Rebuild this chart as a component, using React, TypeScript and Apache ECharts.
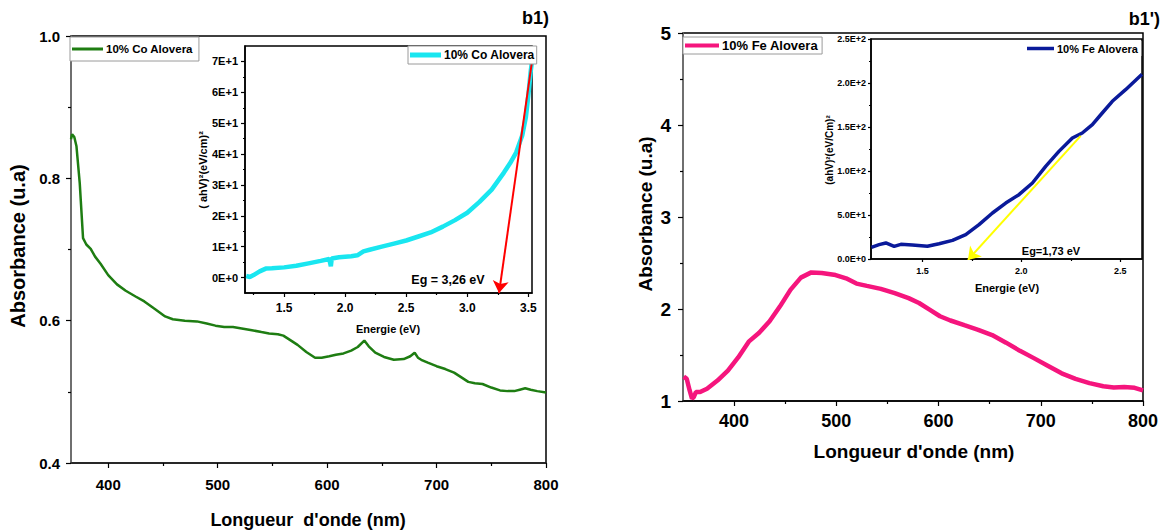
import React, { useEffect, useRef } from "react";
import * as echarts from "echarts";

// ---------- DATA ----------
// Left panel (b1): 10% Co Alovera absorbance vs wavelength (nm)
const coAbsorbance: [number, number][] = [
  [366, 0.855], [367, 0.862], [369, 0.858], [371, 0.845], [374, 0.793], [377, 0.716],
  [380, 0.707], [384, 0.701], [388, 0.690], [393, 0.680], [400, 0.664], [408, 0.651],
  [416, 0.642], [425, 0.634], [433, 0.627], [442, 0.617], [452, 0.606], [459, 0.602],
  [470, 0.600], [481, 0.599], [490, 0.596], [498, 0.593], [506, 0.591], [514, 0.591],
  [522, 0.589], [530, 0.587], [540, 0.584], [547, 0.582], [555, 0.581], [560, 0.579],
  [566, 0.573], [573, 0.566], [581, 0.556], [589, 0.548], [595, 0.548], [602, 0.550],
  [608, 0.552], [615, 0.554], [622, 0.558], [628, 0.563], [634, 0.572], [638, 0.564],
  [644, 0.555], [652, 0.549], [661, 0.545], [670, 0.546], [676, 0.550], [680, 0.555],
  [683, 0.548], [686, 0.545], [692, 0.541], [700, 0.536], [708, 0.532], [716, 0.527],
  [722, 0.521], [729, 0.514], [735, 0.512], [742, 0.511], [750, 0.506], [758, 0.502],
  [765, 0.501], [771, 0.501], [776, 0.503], [781, 0.505], [786, 0.503], [792, 0.501],
  [800, 0.499],
];
// Left inset: (ahV)^2 vs energy (eV)
const coTauc: [number, number][] = [
  [1.19, 0.5], [1.22, 0.2], [1.25, 0.8], [1.3, 2.0], [1.35, 2.9], [1.4, 3.0], [1.5, 3.3],
  [1.6, 3.8], [1.7, 4.6], [1.8, 5.4], [1.87, 6.0], [1.883, 3.7], [1.89, 6.2], [1.95, 6.6],
  [2.05, 6.9], [2.1, 7.2], [2.15, 8.5], [2.2, 9.0], [2.3, 10.0], [2.4, 11.0], [2.5, 12.0],
  [2.6, 13.3], [2.7, 14.6], [2.8, 16.5], [2.9, 18.6], [3.0, 21.0], [3.1, 24.5], [3.2, 28.5],
  [3.3, 34], [3.35, 37], [3.4, 40.5], [3.45, 46], [3.48, 52], [3.5, 59], [3.52, 67], [3.53, 70],
];
const coFitLine: [number, number][] = [[3.53, 70], [3.26, -5]];
const coGapLabel = "Eg = 3,26 eV";

// Right panel (b1'): 10% Fe Alovera
const feAbsorbance: [number, number][] = [
  [350.7, 1.265], [353.7, 1.24], [356.5, 1.115], [358.8, 1.025], [360.5, 1.043],
  [362.6, 1.097], [366.7, 1.097], [373.5, 1.133], [383.7, 1.222], [393.9, 1.33],
  [404, 1.473], [414.3, 1.645], [424.5, 1.742], [434.7, 1.867], [444.9, 2.029],
  [455.1, 2.208], [465.3, 2.341], [475.5, 2.398], [485.7, 2.391], [499.3, 2.369],
  [509.5, 2.333], [519.7, 2.276], [529.9, 2.251], [543.5, 2.219], [557.1, 2.172],
  [570.7, 2.118], [580.9, 2.065], [591.2, 1.993], [601.4, 1.921], [611.6, 1.875],
  [625.2, 1.824], [638.8, 1.774], [652.4, 1.717], [666, 1.634], [679.6, 1.545],
  [693.2, 1.466], [706.8, 1.384], [720.4, 1.301], [734, 1.24], [747.6, 1.194],
  [761.2, 1.161], [771.4, 1.147], [781.6, 1.151], [791.8, 1.143], [800, 1.115],
];
const feTauc: [number, number][] = [
  [1.242, 13.3], [1.281, 16.3], [1.315, 18.2], [1.357, 14.4], [1.391, 16.7], [1.449, 15.9],
  [1.525, 14.4], [1.584, 17.4], [1.652, 21.2], [1.719, 27.7], [1.786, 39.0], [1.854, 52.3],
  [1.921, 63.6], [1.988, 73.1], [2.056, 86.4], [2.123, 105.3], [2.19, 122.3], [2.258, 137.5],
  [2.308, 143.2], [2.359, 152.7], [2.409, 165.9], [2.46, 179.2], [2.527, 192.4], [2.61, 210],
];
const feFitLine: [number, number][] = [[2.3, 140], [1.73, -1]];
const feGapLabel = "Eg=1,73 eV";

// Axis ticks
const coMainXTicks = [400, 500, 600, 700, 800];
const coMainXMinor = [450, 550, 650, 750];
const coMainYTicks = [0.4, 0.6, 0.8, 1.0];
const coMainYMinor = [0.5, 0.7, 0.9];
const coInsetXTicks = [1.5, 2.0, 2.5, 3.0, 3.5];
const coInsetXMinor = [1.25, 1.75, 2.25, 2.75, 3.25];
const coInsetYTicks = [0, 10, 20, 30, 40, 50, 60, 70];
const coInsetYMinor = [5, 15, 25, 35, 45, 55, 65];
const feMainXTicks = [400, 500, 600, 700, 800];
const feMainXMinor = [450, 550, 650, 750];
const feMainYTicks = [1, 2, 3, 4, 5];
const feMainYMinor = [1.5, 2.5, 3.5, 4.5];
const feInsetXTicks = [1.5, 2.0, 2.5];
const feInsetXMinor = [1.75, 2.25];
const feInsetYTicks = [0, 50, 100, 150, 200, 250];
const feInsetYMinor = [25, 75, 125, 175, 225];

const FONT = 'Arial, "Liberation Sans", sans-serif';

function coSci(v: number) {
  return v === 0 ? "0E+0" : `${Math.round(v / 10)}E+1`;
}
function feSci(v: number) {
  if (v === 0) return "0.0E+0";
  if (v < 100) return `${(v / 10).toFixed(1)}E+1`;
  return `${(v / 100).toFixed(1)}E+2`;
}

export default function App() {
  const ref = useRef<HTMLDivElement>(null);
  useEffect(() => {
    if (!ref.current) return;
    const chart = echarts.init(ref.current, undefined, { renderer: "svg" });

    const grids = [
      { left: 71, top: 36, width: 475, height: 427 },
      { left: 245, top: 46, width: 287, height: 247 },
      { left: 683, top: 33, width: 460, height: 368 },
      { left: 871, top: 39, width: 271, height: 220 },
    ].map((g) => ({
      ...g,
      show: true,
      backgroundColor: "#fff",
      borderColor: "#000",
      borderWidth: 1.5,
      containLabel: false,
      outerBoundsMode: "none",
    }));

    const mkAxis = (
      kind: "x" | "y",
      gridIndex: number,
      min: number,
      max: number,
      ticks: number[],
      minor: number[],
      o: { fontSize: number; margin: number; tickLen: number; lineColor: string; formatter?: (v: number) => string }
    ) => {
      const major = {
        type: "value",
        gridIndex,
        min,
        max,
        position: kind === "x" ? "bottom" : "left",
        splitLine: { show: false },
        axisLine: { show: true, onZero: false, lineStyle: { color: o.lineColor, width: 1.5 } },
        axisTick: { show: true, inside: false, length: o.tickLen, customValues: ticks, lineStyle: { color: "#000", width: 1.2 } },
        axisLabel: {
          show: true,
          customValues: ticks,
          margin: o.margin,
          color: "#000",
          fontFamily: FONT,
          fontWeight: "bold",
          fontSize: o.fontSize,
          formatter: o.formatter || ((v: number) => String(v)),
        },
      };
      const minorAxis = {
        type: "value",
        gridIndex,
        min,
        max,
        position: kind === "x" ? "bottom" : "left",
        splitLine: { show: false },
        axisLine: { show: false, onZero: false },
        axisTick: { show: true, inside: false, length: Math.max(2, o.tickLen - 2), customValues: minor, lineStyle: { color: "#000", width: 1.2 } },
        axisLabel: { show: true, customValues: minor, formatter: () => "", fontSize: 1 },
      };
      return [major, minorAxis];
    };

    const xAxis = [
      ...mkAxis("x", 0, 366, 800, coMainXTicks, coMainXMinor, { fontSize: 15, margin: 14, tickLen: 5, lineColor: "#222" }),
      ...mkAxis("x", 1, 1.18, 3.53, coInsetXTicks, coInsetXMinor, { fontSize: 12, margin: 9, tickLen: 4, lineColor: "#000", formatter: (v) => v.toFixed(1) }),
      ...mkAxis("x", 2, 350, 800, feMainXTicks, feMainXMinor, { fontSize: 18, margin: 11, tickLen: 5, lineColor: "#000" }),
      ...mkAxis("x", 3, 1.24, 2.61, feInsetXTicks, feInsetXMinor, { fontSize: 9, margin: 7, tickLen: 3, lineColor: "#000", formatter: (v) => v.toFixed(1) }),
    ];
    const yAxis = [
      ...mkAxis("y", 0, 0.4, 1.0, coMainYTicks, coMainYMinor, { fontSize: 15, margin: 11, tickLen: 5, lineColor: "#808080", formatter: (v) => v.toFixed(1) }),
      ...mkAxis("y", 1, -5, 75, coInsetYTicks, coInsetYMinor, { fontSize: 11, margin: 7, tickLen: 4, lineColor: "#000", formatter: coSci }),
      ...mkAxis("y", 2, 1, 5, feMainYTicks, feMainYMinor, { fontSize: 19, margin: 12, tickLen: 5, lineColor: "#808080" }),
      ...mkAxis("y", 3, 0, 250, feInsetYTicks, feInsetYMinor, { fontSize: 9, margin: 5, tickLen: 3, lineColor: "#000", formatter: feSci }),
    ];

    const lineSeries = (name: string, idx: number, data: [number, number][], color: string, width: number) => ({
      type: "line",
      name,
      xAxisIndex: idx,
      yAxisIndex: idx,
      data,
      showSymbol: false,
      symbol: "none",
      smooth: false,
      lineStyle: { color, width },
      itemStyle: { color },
      z: 3,
    });
    const arrowSeries = (idx: number, coords: [number, number][], color: string, width: number) => ({
      type: "lines",
      coordinateSystem: "cartesian2d",
      xAxisIndex: idx,
      yAxisIndex: idx,
      polyline: false,
      symbol: ["none", "arrow"],
      symbolSize: 12,
      silent: true,
      lineStyle: { color, width, opacity: 1, curveness: 0 },
      data: [{ coords }],
      z: 4,
    });

    const legendNames: Record<string, string> = {
      coMain: "10% Co Alovera",
      coInset: "10% Co Alovera",
      feMain: "10% Fe Alovera",
      feInset: "10% Fe Alovera",
    };
    const mkLegend = (name: string, left: number, top: number, iw: number, ih: number, fs: number, border: boolean, padding: number[]) => ({
      show: true,
      data: [{ name, icon: "rect" }],
      left,
      top,
      orient: "horizontal",
      itemWidth: iw,
      itemHeight: ih,
      itemGap: 0,
      padding,
      borderColor: border ? "#9a9a9a" : "transparent",
      borderWidth: border ? 1 : 0,
      backgroundColor: "#fff",
      borderRadius: 0,
      selectedMode: false,
      formatter: (n: string) => legendNames[n],
      textStyle: { color: "#000", fontFamily: FONT, fontWeight: "bold", fontSize: fs, padding: [0, 0, 0, -2] },
      z: 10,
    });

    const txt = (text: string, x: number, y: number, fs: number, rotate = false, align = "center") => ({
      type: "text",
      x,
      y,
      rotation: rotate ? Math.PI / 2 : 0,
      z: 100,
      style: {
        text,
        fill: "#000",
        font: `bold ${fs}px ${FONT}`,
        align,
        verticalAlign: "middle",
      },
    });

    chart.setOption({
      animation: false,
      backgroundColor: "#fff",
      grid: grids,
      xAxis,
      yAxis,
      legend: [
        mkLegend("coMain", 70, 37, 31, 3, 11.5, true, [6, 6, 6, 2]),
        mkLegend("coInset", 408, 46, 31, 5, 12, true, [3, 2, 3, 2]),
        mkLegend("feMain", 683, 37, 34, 4, 13, true, [2, 4, 2, 2]),
        mkLegend("feInset", 1026, 41, 27, 3.5, 11, false, [2, 3, 2, 1]),
      ],
      series: [
        lineSeries("coMain", 0, coAbsorbance, "#1e7d12", 2.5),
        lineSeries("coInset", 2, coTauc, "#19e6f0", 4.5),
        arrowSeries(2, coFitLine, "#ff0000", 2),
        lineSeries("feMain", 4, feAbsorbance, "#f5157d", 4.5),
        lineSeries("feInset", 6, feTauc, "#0a1a9a", 3.5),
        arrowSeries(6, feFitLine, "#ffff00", 2),
      ],
      graphic: [
        txt("b1)", 549, 18, 18, false, "right"),
        txt("b1')", 1160, 19, 18, false, "right"),
        txt("Absorbance (u.a)", 18, 246, 20, true),
        txt("Longueur  d'onde (nm)", 308, 520, 18),
        txt("Absorbance (u.a)", 645, 214, 19, true),
        txt("Longueur d'onde (nm)", 914, 451, 19),
        txt("Energie (eV)", 388, 329, 11),
        txt("( ahV)²(eV/cm)²", 203, 170, 11, true),
        txt("Energie (eV)", 1007, 288, 11),
        txt("(ahV)²(eV/Cm)²", 829, 150, 10, true),
        txt(coGapLabel, 448, 280, 12.5),
        txt(feGapLabel, 1051, 251, 11),
      ],
    });
    return () => chart.dispose();
  }, []);
  return (
    <div
      ref={ref}
      style={{ position: "absolute", left: 0, top: 0, width: 1164, height: 531, background: "#fff" }}
    />
  );
}
